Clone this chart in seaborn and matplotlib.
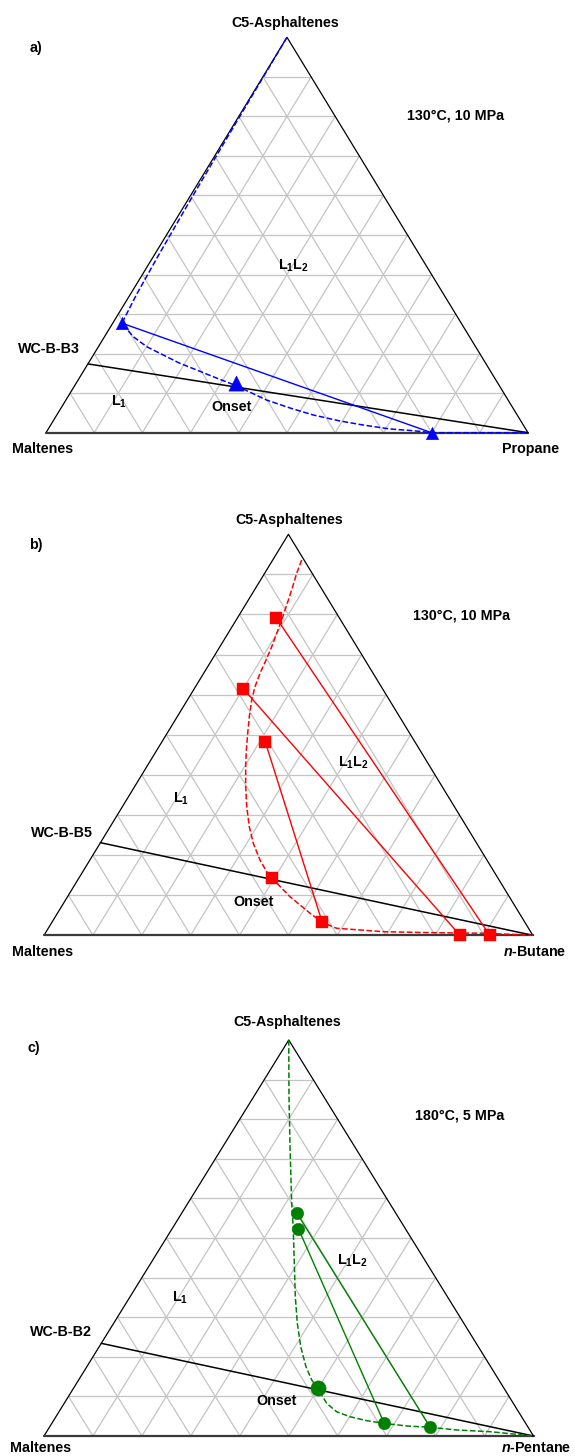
import numpy as np
import pandas as pd
import matplotlib
matplotlib.use("Agg")
import matplotlib.pyplot as plt
import seaborn as sns

# ---------------------------------------------------------------------------
# Phase-behaviour data (mass fractions). Each point is given as
# (C5-asphaltenes, solvent); maltenes make up the remainder.
# ---------------------------------------------------------------------------

# a) WC-B-B3 + propane, 130 °C, 10 MPa
a_feed_asph = 0.174
a_bound_asph = [1.0, 0.8, 0.6, 0.45, 0.35, 0.277, 0.2428, 0.2175, 0.1965, 0.1755,
                0.1586, 0.1416, 0.1181, 0.0827, 0.0625, 0.0448, 0.0296, 0.0195,
                0.0094, 0.005, 0.0, 0.0]
a_bound_solv = [0.0, 0.002, 0.005, 0.009, 0.013, 0.019, 0.0597, 0.1002, 0.1451, 0.190,
                0.2334, 0.276, 0.337, 0.416, 0.475, 0.532, 0.5952, 0.648,
                0.709, 0.760, 0.800, 1.0]
a_tie_start_asph = [0.277]
a_tie_start_solv = [0.019]
a_tie_end_asph = [0.0]
a_tie_end_solv = [0.800]
a_onset = (0.126, 0.332)

# b) WC-B-B5 + n-butane, 130 °C, 10 MPa
b_feed_asph = 0.231
b_bound_asph = [0.9359, 0.9027, 0.8611, 0.8279, 0.7945, 0.7571, 0.7197, 0.6865,
                0.6534, 0.6200, 0.5868, 0.5451, 0.5037, 0.4621, 0.4204, 0.3706,
                0.3207, 0.2708, 0.2294, 0.1878, 0.1586, 0.142, 0.0963, 0.0549,
                0.0324, 0.0175, 0.009, 0.0065, 0.005, 0.0]
b_bound_solv = [0.0592, 0.0656, 0.0761, 0.0838, 0.0911, 0.0988, 0.1060, 0.1110,
                0.1152, 0.1217, 0.1315, 0.1475, 0.1649, 0.1829, 0.2024, 0.2273,
                0.2544, 0.2846, 0.3135, 0.3480, 0.3763, 0.396, 0.455, 0.517,
                0.553, 0.590, 0.690, 0.793, 0.903, 1.0]
b_tie_start_asph = [0.792, 0.615, 0.483]
b_tie_start_solv = [0.079, 0.100, 0.211]
b_tie_end_asph = [0.0, 0.0, 0.0324]
b_tie_end_solv = [0.912, 0.851, 0.553]
b_onset = (0.142, 0.396)

# c) WC-B-B2 + n-pentane, 180 °C, 5 MPa
c_feed_asph = 0.234
c_bound_asph = [1.0, 0.8568, 0.7306, 0.5876, 0.5202, 0.4361, 0.3518, 0.2846, 0.2255,
                0.1750, 0.1414, 0.1204, 0.0826, 0.0614, 0.0487, 0.0387, 0.032,
                0.0253, 0.022, 0.0152, 0.0109, 0.0]
c_bound_solv = [0.0, 0.0721, 0.1373, 0.2122, 0.2492, 0.2933, 0.3375, 0.3752, 0.4117,
                0.4477, 0.4762, 0.499, 0.5362, 0.567, 0.6008, 0.6399, 0.6786,
                0.7284, 0.778, 0.8355, 0.9057, 1.0]
c_tie_start_asph = [0.564, 0.5235]
c_tie_start_solv = [0.234, 0.258]
c_tie_end_asph = [0.022, 0.032]
c_tie_end_solv = [0.778, 0.679]
c_onset = (0.1204, 0.499)

grid_levels = [0.1, 0.2, 0.3, 0.4, 0.5, 0.6, 0.7, 0.8, 0.9]

# ---------------------------------------------------------------------------
sns.set_style("white")
plt.rcParams["font.family"] = ["Liberation Sans", "DejaVu Sans"]
plt.rcParams["font.weight"] = "bold"
plt.rcParams["mathtext.fontset"] = "custom"
plt.rcParams["mathtext.rm"] = "Liberation Sans:bold"
plt.rcParams["mathtext.bf"] = "Liberation Sans:bold"
plt.rcParams["mathtext.it"] = "Liberation Sans:bold:italic"
plt.rcParams["mathtext.default"] = "bf"

W_PX, H_PX = 575, 1456
fig = plt.figure(figsize=(W_PX / 100, H_PX / 100), dpi=100)


def to_xy(asph, solv):
    asph = np.asarray(asph, dtype=float)
    solv = np.asarray(solv, dtype=float)
    return solv + asph / 2.0, asph


def make_axes(left, right, top, base):
    ax = fig.add_axes([left / W_PX, 1 - base / H_PX,
                       (right - left) / W_PX, (base - top) / H_PX])
    ax.set_xlim(0, 1)
    ax.set_ylim(0, 1)
    ax.set_axis_off()
    return ax


def draw_frame(ax):
    grid_kw = dict(color="#c4c4c4", lw=0.9, zorder=1)
    for v in grid_levels:
        # constant asphaltene
        x, y = to_xy([v, v], [0, 1 - v])
        ax.plot(x, y, **grid_kw)
        # constant solvent
        x, y = to_xy([0, 1 - v], [v, v])
        ax.plot(x, y, **grid_kw)
        # constant maltenes
        x, y = to_xy([0, 1 - v], [1 - v, 0])
        ax.plot(x, y, **grid_kw)
    ax.plot([0, 0.5, 1], [0, 1, 0], color="black", lw=0.9, zorder=2)
    ax.plot([0, 1], [0, 0], color="#3a3a3a", lw=1.6, zorder=2)


def draw_panel(ax, color, marker, msize, onset_size, feed_asph,
               bound_asph, bound_solv, ts_a, ts_s, te_a, te_s, onset):
    draw_frame(ax)
    # dilution line from the bitumen feed to the pure solvent
    fx, fy = to_xy([feed_asph, 0.0], [0.0, 1.0])
    sns.lineplot(x=fx, y=fy, sort=False, estimator=None, color="black",
                 lw=1.1, ax=ax, zorder=3)
    # phase boundary
    bx, by = to_xy(bound_asph, bound_solv)
    sns.lineplot(x=bx, y=by, sort=False, estimator=None, color=color,
                 lw=1.1, linestyle="--", ax=ax, zorder=3)
    # tie lines
    rows = []
    for i, (sa, ss, ea, es) in enumerate(zip(ts_a, ts_s, te_a, te_s)):
        x0, y0 = to_xy(sa, ss)
        x1, y1 = to_xy(ea, es)
        rows += [dict(tie=i, x=float(x0), y=float(y0)),
                 dict(tie=i, x=float(x1), y=float(y1))]
    ties = pd.DataFrame(rows)
    sns.lineplot(data=ties, x="x", y="y", units="tie", estimator=None,
                 sort=False, color=color, lw=1.0, ax=ax, zorder=3, legend=False)
    sns.scatterplot(data=ties, x="x", y="y", marker=marker, s=msize ** 2,
                    color=color, edgecolor=color, linewidth=0.3, ax=ax,
                    zorder=5, legend=False)
    ox, oy = to_xy(onset[0], onset[1])
    sns.scatterplot(x=[float(ox)], y=[float(oy)], marker=marker,
                    s=onset_size ** 2, color=color, edgecolor=color,
                    linewidth=0.3, ax=ax, zorder=6, legend=False)
    for art in ax.lines + ax.collections:
        art.set_clip_on(False)
    ax.set_xlabel("")
    ax.set_ylabel("")


def label(px, py, s, size=10.3):
    fig.text(px / W_PX, 1 - py / H_PX, s, ha="center", va="center",
             fontsize=size, fontweight="bold", color="black")


# ---------------- panel a ----------------
ax_a = make_axes(46, 528, 37.3, 432.7)
draw_panel(ax_a, "#0000ff", "^", 9, 11, a_feed_asph, a_bound_asph, a_bound_solv,
           a_tie_start_asph, a_tie_start_solv, a_tie_end_asph, a_tie_end_solv, a_onset)
label(36, 48, "a)")
label(285, 23, "C5-Asphaltenes")
label(456, 116, "130°C, 10 MPa")
label(293, 266, "L$_1$L$_2$")
label(49, 349, "WC-B-B3")
label(119, 402, "L$_1$")
label(232, 407, "Onset")
label(43, 449, "Maltenes")
label(531, 449, "Propane")

# ---------------- panel b ----------------
ax_b = make_axes(44, 532.8, 534.3, 935.3)
draw_panel(ax_b, "#ff0000", "s", 9, 9, b_feed_asph, b_bound_asph, b_bound_solv,
           b_tie_start_asph, b_tie_start_solv, b_tie_end_asph, b_tie_end_solv, b_onset)
label(36, 545, "b)")
label(289, 520, "C5-Asphaltenes")
label(462, 615, "130°C, 10 MPa")
label(353, 763, "L$_1$L$_2$")
label(181, 799, "L$_1$")
label(62, 833, "WC-B-B5")
label(254, 902, "Onset")
label(43, 952, "Maltenes")
label(535, 952, "$\\mathit{n}$-Butane")

# ---------------- panel c ----------------
ax_c = make_axes(44, 533.5, 1040, 1436)
draw_panel(ax_c, "#008000", "o", 9, 11, c_feed_asph, c_bound_asph, c_bound_solv,
           c_tie_start_asph, c_tie_start_solv, c_tie_end_asph, c_tie_end_solv, c_onset)
label(34, 1048, "c)")
label(287, 1022, "C5-Asphaltenes")
label(460, 1116, "180°C, 5 MPa")
label(352, 1261, "L$_1$L$_2$")
label(180, 1298, "L$_1$")
label(61, 1332, "WC-B-B2")
label(277, 1401, "Onset")
label(41, 1448, "Maltenes")
label(536, 1448, "$\\mathit{n}$-Pentane")

fig.savefig("out.png", dpi=100, facecolor="white")
